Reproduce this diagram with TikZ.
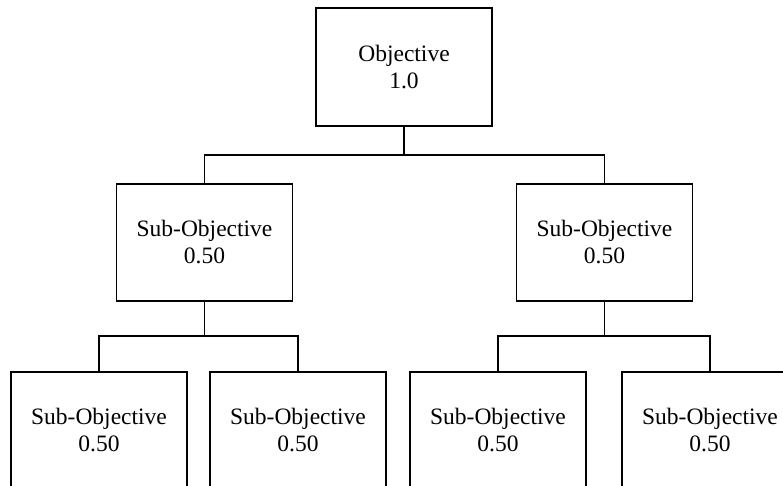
\documentclass[tikz,border=0pt]{standalone}
\usepackage{fontspec}
\setmainfont{Liberation Serif}
\begin{document}
\begin{tikzpicture}[x=1pt, y=-1pt,
  objbox/.style={draw=black, line width=1.2pt, rectangle, minimum width=176pt,
    minimum height=117pt, inner sep=0pt, align=center,
    font=\fontsize{23.5}{27}\selectfont},
  link/.style={draw=black, line width=1.2pt}]
  \useasboundingbox (0,0) rectangle (783,485);
  \clip (0,0) rectangle (783,485);

  % top level
  \node[objbox, minimum height=118pt] (top) at (404,67) {Objective\\1.0};

  % second level
  \node[objbox] (subA) at (204.5,242.5) {Sub-Objective\\0.50};
  \node[objbox] (subB) at (604.5,242.5) {Sub-Objective\\0.50};

  % third level
  \node[objbox] (leafA1) at (99,430.5)  {Sub-Objective\\0.50};
  \node[objbox] (leafA2) at (298,430.5) {Sub-Objective\\0.50};
  \node[objbox] (leafB1) at (498,430.5) {Sub-Objective\\0.50};
  \node[objbox] (leafB2) at (710,430.5) {Sub-Objective\\0.50};

  % bus points of the tree connectors
  \coordinate (bus0) at (404,155);
  \coordinate (busA) at (204.5,336);
  \coordinate (busB) at (604.5,336);

  \draw[link] (top.south) -- (bus0);
  \draw[link] (subA.north) |- (bus0) -| (subB.north);

  \draw[link] (subA.south) -- (busA);
  \draw[link] (leafA1.north) |- (busA) -| (leafA2.north);

  \draw[link] (subB.south) -- (busB);
  \draw[link] (leafB1.north) |- (busB) -| (leafB2.north);
\end{tikzpicture}
\end{document}
